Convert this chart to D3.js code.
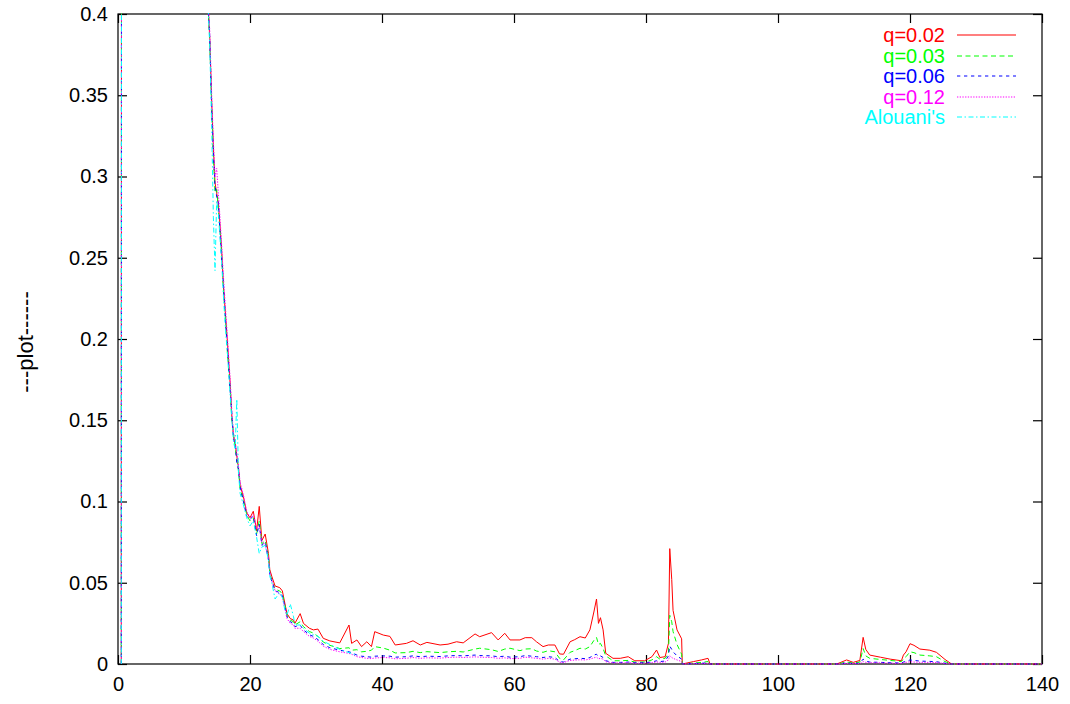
<!DOCTYPE html>
<html>
<head>
<meta charset="utf-8">
<script src="https://cdn.jsdelivr.net/npm/d3@7"></script>
<style>
  html, body { margin: 0; padding: 0; background: #fff; }
  svg { display: block; }
  text { font-family: "Liberation Sans", Arial, sans-serif; }
</style>
</head>
<body>
<svg id="chart" width="1070" height="704"></svg>
<script>
// Shared abscissa for all series
const xs = [
  0.5, 0.7, 1, 2, 4, 6, 8, 10, 12, 13,
  13.7, 13.9, 14.2, 14.45, 14.7, 14.95, 15.2, 15.45, 15.7, 15.95,
  16.3, 16.6, 17.0, 17.25, 17.5, 17.75, 18.0, 18.25, 18.5, 19.0,
  19.5, 20.0, 20.5, 21.0, 21.4, 21.8, 22.3, 22.8, 23.0, 23.3,
  23.8, 24.5, 24.9, 25.3, 25.6, 26.1, 26.6, 26.8, 27.6, 28.1,
  29.0, 29.6, 30.3, 31.1, 32.1, 33.6, 35.0, 35.4, 36.2, 36.9,
  37.7, 38.4, 38.9, 40.2, 41.2, 42.0, 43.7, 44.7, 45.8, 46.8,
  48.8, 50.0, 51.3, 52.3, 54.1, 54.8, 56.6, 57.6, 58.6, 59.4,
  60.9, 61.7, 62.7, 63.4, 64.4, 65.2, 66.2, 66.9, 67.5, 68.5,
  69.2, 70.0, 70.8, 71.5, 72.1, 72.5, 72.8, 73.1, 73.5, 73.9,
  75.0, 76.1, 77.3, 78.3, 79.8, 80.9, 81.6, 82.1, 82.9, 83.4,
  83.6, 83.9, 84.1, 84.7, 85.4, 85.5, 87.2, 88.4, 89.4, 89.7,
  95, 100, 105, 108.9, 110.4, 111.4, 112.4, 112.9, 113.3, 113.9,
  115.5, 117, 118.7, 119.0, 119.4, 120.0, 120.6, 121.5, 123.0, 124.0,
  125.3, 126.3, 130, 135, 140
];

const q002 = [
  0, 3.0, 2.6, 2.2, 1.6, 1.2, 0.9, 0.7, 0.55, 0.47,
  0.402, 0.385, 0.345, 0.318, 0.296, 0.290, 0.283, 0.270, 0.255, 0.234,
  0.214, 0.197, 0.172, 0.152, 0.140, 0.136, 0.128, 0.121, 0.110, 0.103,
  0.093, 0.090, 0.094, 0.082, 0.097, 0.076, 0.080, 0.068, 0.058, 0.054,
  0.048, 0.047, 0.045, 0.037, 0.031, 0.028, 0.027, 0.025, 0.031, 0.025,
  0.022, 0.021, 0.0215, 0.0158, 0.0142, 0.013, 0.024, 0.0127, 0.0148, 0.0107,
  0.0137, 0.0107, 0.0199, 0.0178, 0.017, 0.0117, 0.0127, 0.0143, 0.0117, 0.0133,
  0.0117, 0.0122, 0.0137, 0.013, 0.0185, 0.0168, 0.0193, 0.0148, 0.0189, 0.0148,
  0.0148, 0.0162, 0.0162, 0.0137, 0.0107, 0.0117, 0.0117, 0.0062, 0.006, 0.0137,
  0.015, 0.0168, 0.016, 0.021, 0.032, 0.040, 0.025, 0.0285, 0.021, 0.0066,
  0.0035, 0.0035, 0.0045, 0.002, 0.002, 0.0045, 0.0086, 0.004, 0.0045, 0.0127,
  0.071, 0.052, 0.033, 0.021, 0.0155, 0, 0.0015, 0.0025, 0.0035, 0,
  0, 0, 0, 0, 0.0025, 0.001, 0.0022, 0.0164, 0.009, 0.0055,
  0.0042, 0.003, 0.002, 0.0055, 0.0075, 0.0125, 0.0115, 0.0092, 0.0085, 0.0072,
  0.0028, 0, 0, 0, 0
];

const q003 = [
  0, 3.0, 2.6, 2.2, 1.6, 1.2, 0.9, 0.7, 0.55, 0.47,
  0.400, 0.384, 0.342, 0.312, 0.290, 0.292, 0.280, 0.268, 0.252, 0.232,
  0.212, 0.190, 0.170, 0.150, 0.142, 0.133, 0.126, 0.119, 0.108, 0.101,
  0.092, 0.088, 0.090, 0.080, 0.088, 0.074, 0.076, 0.066, 0.056, 0.052,
  0.046, 0.045, 0.043, 0.036, 0.030, 0.027, 0.026, 0.024, 0.026, 0.023,
  0.020, 0.019, 0.017, 0.0135, 0.0115, 0.0095, 0.010, 0.0085, 0.0088, 0.0075,
  0.0078, 0.0085, 0.0107, 0.0098, 0.0085, 0.0068, 0.007, 0.0078, 0.007, 0.0076,
  0.007, 0.0075, 0.0078, 0.0074, 0.0092, 0.0097, 0.0088, 0.0077, 0.0092, 0.0097,
  0.0082, 0.0092, 0.0094, 0.008, 0.0072, 0.0082, 0.0075, 0.0035, 0.0025, 0.0072,
  0.0082, 0.0097, 0.0092, 0.0107, 0.0145, 0.0164, 0.012, 0.0127, 0.0095, 0.005,
  0.002, 0.002, 0.0022, 0.0012, 0.0012, 0.0025, 0.0045, 0.003, 0.0035, 0.0066,
  0.030, 0.026, 0.020, 0.012, 0.006, 0, 0.0006, 0.001, 0.0015, 0,
  0, 0, 0, 0, 0.0012, 0.0006, 0.0012, 0.0095, 0.005, 0.0035,
  0.0028, 0.0022, 0.0015, 0.003, 0.0045, 0.0075, 0.007, 0.0055, 0.005, 0.0045,
  0.0015, 0, 0, 0, 0
];

const q006 = [
  0, 3.0, 2.6, 2.2, 1.6, 1.2, 0.9, 0.7, 0.55, 0.47,
  0.401, 0.386, 0.340, 0.315, 0.294, 0.288, 0.284, 0.266, 0.250, 0.236,
  0.210, 0.193, 0.168, 0.154, 0.138, 0.135, 0.124, 0.120, 0.109, 0.100,
  0.091, 0.089, 0.091, 0.079, 0.086, 0.073, 0.075, 0.064, 0.055, 0.051,
  0.045, 0.044, 0.042, 0.035, 0.029, 0.026, 0.025, 0.023, 0.024, 0.021,
  0.018, 0.017, 0.015, 0.012, 0.010, 0.0085, 0.0075, 0.007, 0.0055, 0.0048,
  0.0045, 0.0042, 0.0048, 0.005, 0.0048, 0.0042, 0.0045, 0.005, 0.0045, 0.0048,
  0.0046, 0.005, 0.0052, 0.005, 0.0055, 0.0052, 0.005, 0.0045, 0.0048, 0.0042,
  0.0045, 0.0052, 0.0048, 0.0045, 0.004, 0.0045, 0.004, 0.0015, 0.0012, 0.003,
  0.0032, 0.0035, 0.0033, 0.004, 0.0055, 0.006, 0.0045, 0.005, 0.004, 0.002,
  0.001, 0.001, 0.0012, 0.0008, 0.0008, 0.0012, 0.002, 0.0015, 0.0018, 0.005,
  0.011, 0.009, 0.0075, 0.005, 0.003, 0, 0.0003, 0.0005, 0.0006, 0,
  0, 0, 0, 0, 0.0006, 0.0003, 0.0005, 0.003, 0.0018, 0.0012,
  0.001, 0.0008, 0.0006, 0.0012, 0.0016, 0.0025, 0.0022, 0.0018, 0.0016, 0.0014,
  0.0005, 0, 0, 0, 0
];

const q012 = [
  0, 3.0, 2.6, 2.2, 1.6, 1.2, 0.9, 0.7, 0.55, 0.47,
  0.404, 0.390, 0.350, 0.322, 0.300, 0.305, 0.290, 0.275, 0.258, 0.240,
  0.218, 0.200, 0.175, 0.155, 0.142, 0.137, 0.130, 0.122, 0.112, 0.104,
  0.094, 0.090, 0.092, 0.083, 0.085, 0.075, 0.074, 0.065, 0.056, 0.052,
  0.045, 0.043, 0.041, 0.034, 0.028, 0.025, 0.024, 0.022, 0.022, 0.020,
  0.017, 0.016, 0.014, 0.011, 0.009, 0.0075, 0.0065, 0.006, 0.0045, 0.004,
  0.0035, 0.0033, 0.0037, 0.004, 0.0038, 0.0032, 0.0035, 0.004, 0.0035, 0.0038,
  0.0036, 0.004, 0.0042, 0.004, 0.0044, 0.0042, 0.004, 0.0035, 0.0038, 0.0033,
  0.0035, 0.0042, 0.0038, 0.0035, 0.003, 0.0035, 0.003, 0.0011, 0.0009, 0.0022,
  0.0024, 0.0026, 0.0025, 0.003, 0.0038, 0.0042, 0.0032, 0.0035, 0.003, 0.0014,
  0.0007, 0.0007, 0.0008, 0.0005, 0.0005, 0.0008, 0.0013, 0.001, 0.0012, 0.0025,
  0.005, 0.004, 0.0035, 0.0025, 0.0015, 0, 0.0002, 0.0003, 0.0004, 0,
  0, 0, 0, 0, 0.0004, 0.0002, 0.0003, 0.0015, 0.001, 0.0008,
  0.0007, 0.0005, 0.0004, 0.0008, 0.001, 0.0014, 0.0012, 0.001, 0.001, 0.0009,
  0.0003, 0, 0, 0, 0
];

// Alouani's reference curve only covers the first part of the range
const alouani = [
  0, 3.0, 2.6, 2.2, 1.6, 1.2, 0.9, 0.7, 0.55, 0.47,
  0.400, 0.380, 0.330, 0.275, 0.242, 0.285, 0.278, 0.262, 0.248, 0.228,
  0.205, 0.190, 0.165, 0.150, 0.137, 0.132, 0.163, 0.118, 0.105, 0.098,
  0.090, 0.085, 0.088, 0.078, 0.068, 0.072, 0.073, 0.064, 0.054, 0.050,
  0.040, 0.044, 0.041, 0.033, 0.030, 0.037, 0.029, 0.024, 0.024, 0.022,
  0.019, 0.018, 0.017, 0.014, 0.012, 0.009, 0.007, 0.0065, 0.005
];

const seriesNames = ["q=0.02", "q=0.03", "q=0.06", "q=0.12", "Alouani's"];
const seriesValues = [q002, q003, q006, q012, alouani];
const seriesColors = ["#ff0000", "#00ff00", "#0000ff", "#ff00ff", "#00ffff"];
const seriesDashes = [null, "5,3.5", "3.3,3.7", "1.3,1.4", "5,2.5,1.5,2.5"];

const xTicks = [0, 20, 40, 60, 80, 100, 120, 140];
const yTicks = [0, 0.05, 0.1, 0.15, 0.2, 0.25, 0.3, 0.35, 0.4];
const yTitle = "---plot------";

const svg = d3.select("#chart");
const L = 118, T = 14, W = 924, H = 650;
const FS = 20;

const x = d3.scaleLinear().domain([0, 140]).range([0, W]);
const y = d3.scaleLinear().domain([0, 0.4]).range([H, 0]);

const g = svg.append("g").attr("transform", `translate(${L},${T})`);

svg.append("defs").append("clipPath").attr("id", "plotclip")
  .append("rect").attr("x", 0).attr("y", -1).attr("width", W).attr("height", H + 2);

// frame
g.append("rect").attr("x", 0).attr("y", 0).attr("width", W).attr("height", H)
  .attr("fill", "none").attr("stroke", "#000").attr("stroke-width", 1.2);

const tickLen = 9;
function styleAxis(sel) {
  sel.select(".domain").remove();
  sel.selectAll(".tick line").attr("stroke", "#000").attr("stroke-width", 1.2);
  sel.selectAll(".tick text").attr("fill", "#000").style("font-size", FS + "px")
    .style("font-family", '"Liberation Sans", Arial, sans-serif');
}

g.append("g").attr("transform", `translate(0,${H})`)
  .call(d3.axisBottom(x).tickValues(xTicks).tickFormat(d3.format("d"))
    .tickSizeInner(-tickLen).tickSizeOuter(0).tickPadding(13))
  .call(styleAxis);
g.append("g")
  .call(d3.axisTop(x).tickValues(xTicks).tickFormat("")
    .tickSizeInner(-tickLen).tickSizeOuter(0))
  .call(styleAxis);
g.append("g")
  .call(d3.axisLeft(y).tickValues(yTicks).tickFormat(d => d3.format("")(+d.toFixed(2)))
    .tickSizeInner(-tickLen).tickSizeOuter(0).tickPadding(10))
  .call(styleAxis);
g.append("g").attr("transform", `translate(${W},0)`)
  .call(d3.axisRight(y).tickValues(yTicks).tickFormat("")
    .tickSizeInner(-tickLen).tickSizeOuter(0))
  .call(styleAxis);

// y axis title
svg.append("text")
  .attr("transform", `translate(33,342) rotate(-90)`)
  .attr("text-anchor", "middle")
  .attr("fill", "#000")
  .style("font-size", "22px")
  .text(yTitle);

// curves
const line = d3.line().x(d => x(d[0])).y(d => y(d[1]));
const plot = g.append("g").attr("clip-path", "url(#plotclip)");
seriesValues.forEach((vals, i) => {
  const pts = vals.map((v, j) => [xs[j], v]);
  plot.append("path")
    .datum(pts)
    .attr("fill", "none")
    .attr("stroke", seriesColors[i])
    .attr("stroke-width", 1)
    .attr("stroke-dasharray", seriesDashes[i])
    .attr("d", line);
});

// key
const key = svg.append("g");
seriesNames.forEach((name, i) => {
  const cy = Math.round(35 + i * 20.5);
  key.append("text")
    .attr("x", 945).attr("y", cy).attr("dy", "0.35em")
    .attr("text-anchor", "end")
    .attr("fill", seriesColors[i])
    .style("font-size", FS + "px")
    .text(name);
  key.append("line")
    .attr("x1", 957).attr("x2", 1016).attr("y1", cy).attr("y2", cy)
    .attr("stroke", seriesColors[i]).attr("stroke-width", 1.2)
    .attr("stroke-dasharray", seriesDashes[i]);
});
</script>
</body>
</html>
